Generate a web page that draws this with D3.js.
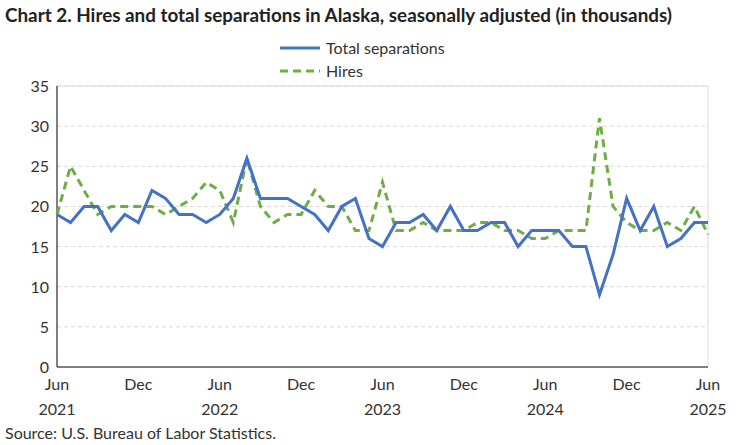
<!DOCTYPE html><html><head><meta charset="utf-8"><script src="https://cdn.jsdelivr.net/npm/d3@7"></script>
<style>body{margin:0;background:#fff;font-family:Lato,"Open Sans",sans-serif}</style></head><body><svg id="c" width="750" height="445"></svg>
<script>
const title="Chart 2. Hires and total separations in Alaska, seasonally adjusted (in thousands)";
const separations=[19,18,20,20,17,19,18, 22,21,19,19,18,19,21,26,21,21,21,20, 19,17,20,21,16,15,18,18,19,17,20,17, 17,18,18,15,17,17,17,15,15,9,14,21, 17,20,15,16,18,18];
const hires=[19,25,22,19,20,20,20, 20,19,20,21,23,22,18,26,20,18,19,19, 22,20,20,17,17,23,17,17,18,17,17,17, 18,18,17,17,16,16,17,17,17,31,20,18, 17,17,18,17,20,16.5];
const yTicks=[0,5,10,15,20,25,30,35];
const xTickIdx=[0,6,12,18,24,30,36,42,48];
const xTickLabels=["Jun","Dec","Jun","Dec","Jun","Dec","Jun","Dec","Jun"];
const yearLabels=[[0,"2021"],[12,"2022"],[24,"2023"],[36,"2024"],[48,"2025"]];
const svg=d3.select("#c");
const L=57,R=708,T=86,B=367;
const x=d3.scaleLinear().domain([0,48]).range([L,R]);
const y=d3.scaleLinear().domain([0,35]).range([B,T]);
const FS=16;
svg.append("text").attr("x",5).attr("y",22).attr("font-size",18).attr("font-weight","bold").attr("fill","#222").attr("textLength",667).attr("lengthAdjust","spacingAndGlyphs").text(title);
svg.append("g").selectAll("line").data(yTicks.filter(d=>d>0)).join("line").attr("x1",L).attr("x2",R).attr("y1",d=>y(d)).attr("y2",d=>y(d)).attr("stroke","#d9d9d9").attr("stroke-dasharray","4,3");
svg.append("line").attr("x1",R).attr("x2",R).attr("y1",T).attr("y2",B).attr("stroke","#d9d9d9");
svg.append("line").attr("x1",L).attr("x2",R).attr("y1",T).attr("y2",T).attr("stroke","#d9d9d9");
svg.append("g").selectAll("text").data(yTicks).join("text").attr("x",L-8).attr("y",d=>y(d)+6).attr("text-anchor","end").attr("font-size",FS).attr("fill","#333").text(d=>d);
svg.append("line").attr("x1",L).attr("x2",L).attr("y1",T).attr("y2",B).attr("stroke","#000");
svg.append("line").attr("x1",L).attr("x2",R).attr("y1",B).attr("y2",B).attr("stroke","#000");
svg.append("g").selectAll("text").data(xTickIdx).join("text").attr("x",d=>x(d)).attr("y",B+23).attr("text-anchor","middle").attr("font-size",FS).attr("fill","#333").text((d,i)=>xTickLabels[i]);
svg.append("g").selectAll("text").data(yearLabels).join("text").attr("x",d=>x(d[0])).attr("y",B+48).attr("text-anchor","middle").attr("font-size",FS).attr("fill","#333").text(d=>d[1]);
const line=d3.line().x((d,i)=>x(i)).y(d=>y(d));
svg.append("path").datum(hires).attr("d",line).attr("fill","none").attr("stroke","#70ad47").attr("stroke-width",3).attr("stroke-dasharray","8,5");
svg.append("path").datum(separations).attr("d",line).attr("fill","none").attr("stroke","#4472c4").attr("stroke-width",3);
const lg=svg.append("g");
lg.append("line").attr("x1",280).attr("x2",320).attr("y1",48).attr("y2",48).attr("stroke","#4472c4").attr("stroke-width",3);
lg.append("text").attr("x",326).attr("y",54).attr("font-size",FS).attr("fill","#333").text("Total separations");
lg.append("line").attr("x1",280).attr("x2",320).attr("y1",71).attr("y2",71).attr("stroke","#70ad47").attr("stroke-width",3).attr("stroke-dasharray","8,5");
lg.append("text").attr("x",326).attr("y",77).attr("font-size",FS).attr("fill","#333").text("Hires");
svg.append("text").attr("x",5).attr("y",439).attr("font-size",FS).attr("fill","#333").text("Source: U.S. Bureau of Labor Statistics.");
</script></body></html>
